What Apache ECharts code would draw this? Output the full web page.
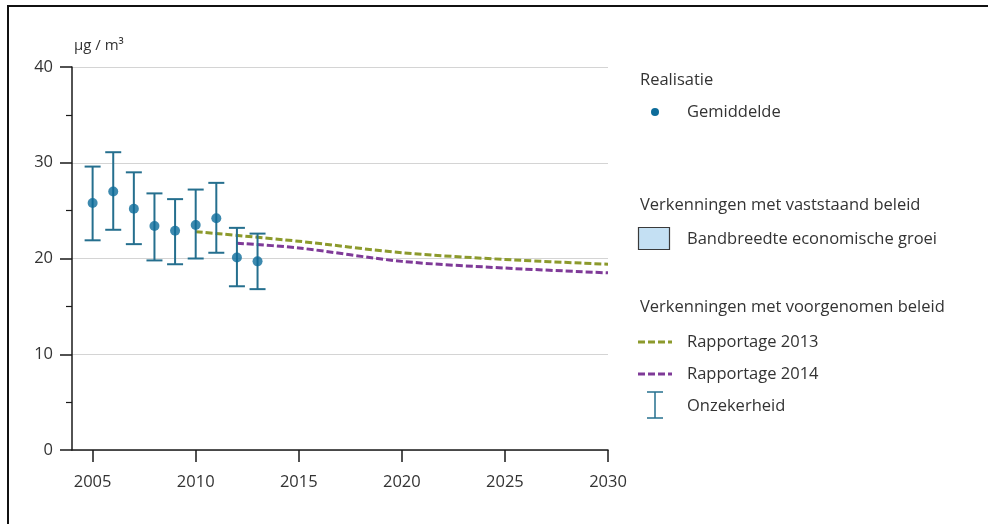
<!DOCTYPE html>
<html>
<head>
<meta charset="utf-8">
<script src="https://cdn.jsdelivr.net/npm/echarts@6/dist/echarts.min.js"></script>
<style>
  html, body { margin: 0; padding: 0; background: #fff; }
  #chart { width: 988px; height: 524px; }
</style>
</head>
<body>
<div id="chart"></div>
<script>
// Realisatie: jaargemiddelde met onzekerheidsmarge (µg/m³)
const jaren = [2005, 2006, 2007, 2008, 2009, 2010, 2011, 2012, 2013];
const gemiddelde = [25.8, 27.0, 25.2, 23.4, 22.9, 23.5, 24.2, 20.1, 19.7];
const onzekerheidLaag = [21.9, 23.0, 21.5, 19.8, 19.4, 20.0, 20.6, 17.1, 16.8];
const onzekerheidHoog = [29.6, 31.1, 29.0, 26.8, 26.2, 27.2, 27.9, 23.2, 22.6];

// Verkenningen met voorgenomen beleid
const jaren2013 = [2010, 2015, 2020, 2025, 2030];
const rapportage2013 = [22.8, 21.8, 20.6, 19.9, 19.4];
const jaren2014 = [2012, 2015, 2020, 2025, 2030];
const rapportage2014 = [21.6, 21.1, 19.7, 19.0, 18.5];

// Asindeling
const xTicks = [2005, 2010, 2015, 2020, 2025, 2030];
const yTicks = [0, 10, 20, 30, 40];

const FONT = '"Open Sans", "Noto Sans", sans-serif';
const FS = 16.5;
const TXT = '#333333';
const C_DOT = '#0d6c9a';
const C_BAR = '#256f8e';
const C_2013 = '#8c9a2c';
const C_2014 = '#7f3a98';

const chart = echarts.init(document.getElementById('chart'), null, { renderer: 'canvas' });

function zip(xs, ys) { return xs.map((x, i) => [x, ys[i]]); }

const errorData = jaren.map((j, i) => [j, onzekerheidLaag[i], onzekerheidHoog[i]]);

function label(x, y, text) {
  return { type: 'text', x: x, y: y, style: { text: text, font: FS + 'px ' + FONT, fill: TXT, textVerticalAlign: 'middle', verticalAlign: 'middle' } };
}

const legendX = 640;
const legendItems = [
  label(legendX, 80, 'Realisatie'),
  { type: 'circle', shape: { cx: 655, cy: 112, r: 4 }, style: { fill: C_DOT } },
  label(687, 112, 'Gemiddelde'),

  label(legendX, 205, 'Verkenningen met vaststaand beleid'),
  { type: 'rect', shape: { x: 638.5, y: 227.5, width: 31, height: 22 }, style: { fill: '#c4e0f3', stroke: '#3a3a3a', lineWidth: 1.2 } },
  label(687, 239, 'Bandbreedte economische groei'),

  label(legendX, 307, 'Verkenningen met voorgenomen beleid'),
  { type: 'line', shape: { x1: 638, y1: 342, x2: 672, y2: 342 }, style: { stroke: C_2013, lineWidth: 3, lineDash: [7, 3] } },
  label(687, 342, 'Rapportage 2013'),
  { type: 'line', shape: { x1: 638, y1: 374, x2: 672, y2: 374 }, style: { stroke: C_2014, lineWidth: 3, lineDash: [7, 3] } },
  label(687, 374, 'Rapportage 2014'),
  { type: 'polyline', shape: { points: [[647, 392], [663, 392]] }, style: { stroke: C_BAR, lineWidth: 1.5 } },
  { type: 'polyline', shape: { points: [[655, 392], [655, 418]] }, style: { stroke: C_BAR, lineWidth: 1.5 } },
  { type: 'polyline', shape: { points: [[647, 418], [663, 418]] }, style: { stroke: C_BAR, lineWidth: 1.5 } },
  label(687, 406, 'Onzekerheid'),

  // figuurkader
  { type: 'polyline', shape: { points: [[8, 524], [8, 6], [988, 6]] }, style: { stroke: '#111', lineWidth: 2, fill: null } },

  // eenheid
  { type: 'text', x: 74, y: 46, style: { text: 'µg / m³', font: '15px ' + FONT, fill: TXT, textVerticalAlign: 'middle', verticalAlign: 'middle' } }
];

const option = {
  animation: false,
  backgroundColor: '#ffffff',
  grid: { left: 72, right: 380, top: 67, bottom: 74, containLabel: false },
  xAxis: {
    type: 'value',
    min: 2004,
    max: 2030,
    axisLine: { onZero: false, lineStyle: { color: '#1a1a1a', width: 1.5 } },
    axisTick: { show: true, customValues: xTicks, length: 12, lineStyle: { color: '#1a1a1a', width: 1.5 } },
    axisLabel: { customValues: xTicks, margin: 24, color: TXT, fontSize: FS, fontFamily: FONT, formatter: v => String(v) },
    splitLine: { show: false }
  },
  yAxis: {
    type: 'value',
    min: 0,
    max: 40,
    interval: 10,
    axisLine: { show: true, lineStyle: { color: '#1a1a1a', width: 1.5 } },
    axisTick: { show: true, length: 12, lineStyle: { color: '#1a1a1a', width: 1.5 } },
    minorTick: { show: true, splitNumber: 2, length: 6, lineStyle: { color: '#1a1a1a', width: 1.2 } },
    axisLabel: { margin: 19, color: TXT, fontSize: FS, fontFamily: FONT, customValues: yTicks },
    splitLine: { show: true, lineStyle: { color: '#d4d4d4', width: 1 } }
  },
  graphic: legendItems,
  series: [
    {
      name: 'Rapportage 2013',
      type: 'line',
      data: zip(jaren2013, rapportage2013),
      smooth: 0.3,
      showSymbol: false,
      lineStyle: { color: C_2013, width: 3, type: [7, 3] },
      z: 2
    },
    {
      name: 'Rapportage 2014',
      type: 'line',
      data: zip(jaren2014, rapportage2014),
      smooth: 0.3,
      showSymbol: false,
      lineStyle: { color: C_2014, width: 3, type: [7, 3] },
      z: 2
    },
    {
      name: 'Onzekerheid',
      type: 'custom',
      data: errorData,
      z: 3,
      renderItem: function (params, api) {
        const x = api.value(0);
        const lo = api.coord([x, api.value(1)]);
        const hi = api.coord([x, api.value(2)]);
        const half = 8;
        const style = { stroke: C_BAR, lineWidth: 2, fill: null };
        return {
          type: 'group',
          children: [
            { type: 'line', shape: { x1: hi[0], y1: hi[1], x2: lo[0], y2: lo[1] }, style },
            { type: 'line', shape: { x1: hi[0] - half, y1: hi[1], x2: hi[0] + half, y2: hi[1] }, style },
            { type: 'line', shape: { x1: lo[0] - half, y1: lo[1], x2: lo[0] + half, y2: lo[1] }, style }
          ]
        };
      }
    },
    {
      name: 'Gemiddelde',
      type: 'scatter',
      data: zip(jaren, gemiddelde),
      symbol: 'circle',
      symbolSize: 10,
      itemStyle: { color: C_DOT },
      z: 4
    }
  ]
};

chart.setOption(option);
</script>
</body>
</html>
